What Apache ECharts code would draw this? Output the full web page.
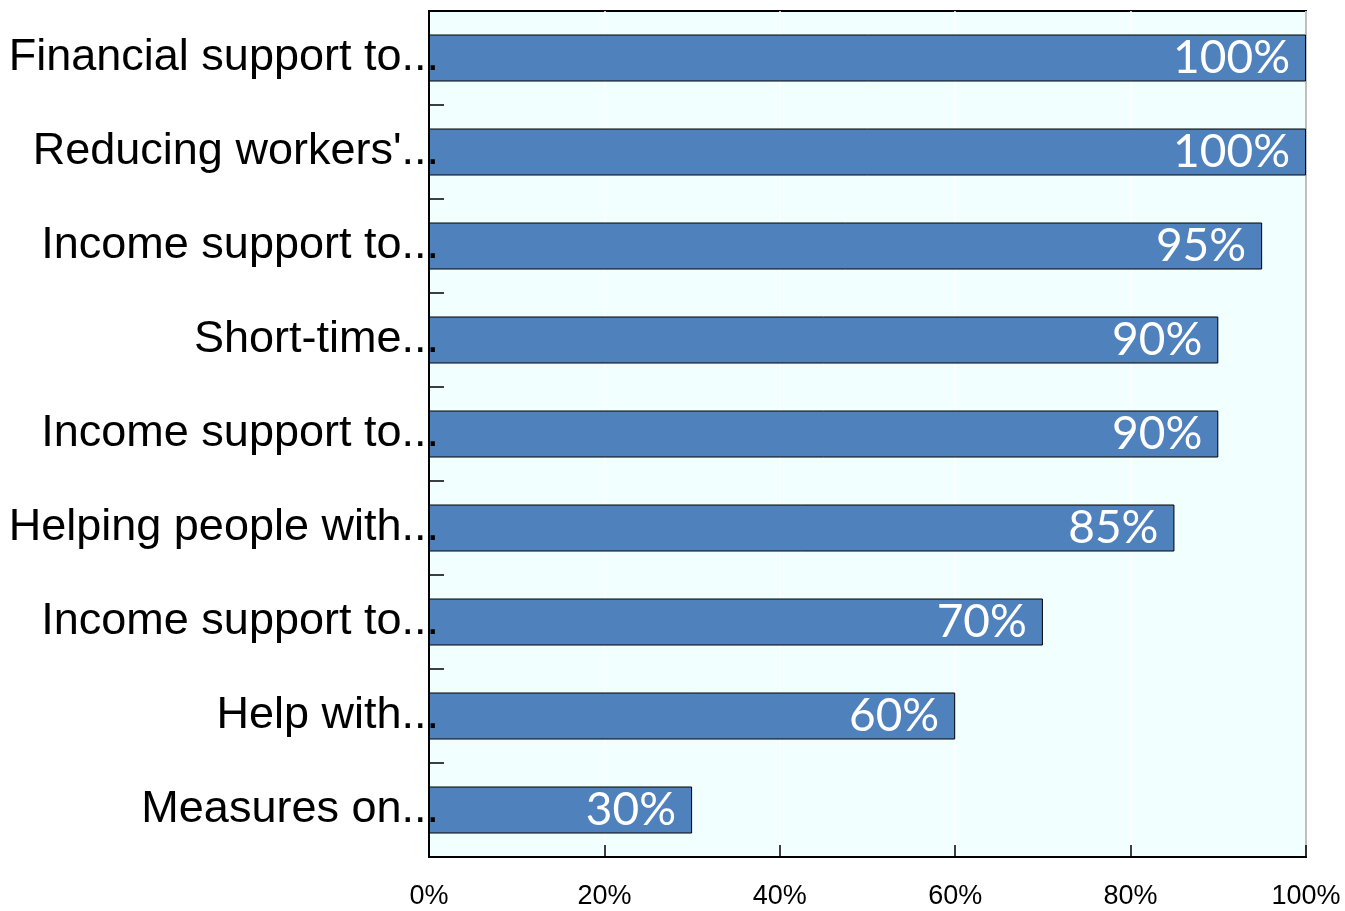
<!DOCTYPE html>
<html><head><meta charset="utf-8">
<script src="https://cdn.jsdelivr.net/npm/echarts@6/dist/echarts.min.js"></script>
<style>html,body{margin:0;padding:0;background:#fff}#c{width:1345px;height:911px}</style>
</head><body><div id="c"></div>
<script>
const categories = ["Financial support to...", "Reducing workers'...", "Income support to...", "Short-time...", "Income support to...", "Helping people with...", "Income support to...", "Help with...", "Measures on..."];
const values = [100, 100, 95, 90, 90, 85, 70, 60, 30];
const xTicks = [0, 20, 40, 60, 80, 100];

const chart = echarts.init(document.getElementById('c'));
chart.setOption({
  animation: false,
  grid: {left: 429, right: 39, top: 11, bottom: 54, show: true, backgroundColor: '#F2FFFF', borderColor: '#000', borderWidth: 2, outerBoundsMode: 'none', containLabel: false},
  xAxis: {
    type: 'value', min: xTicks[0], max: xTicks[xTicks.length-1], interval: 20,
    axisLine: {show: true, lineStyle: {color: '#000', width: 2}},
    axisTick: {show: true, inside: true, length: 12, lineStyle: {color: '#000', width: 1.5}},
    splitLine: {show: true, lineStyle: {color: '#ffffff', width: 1.5}},
    axisLabel: {formatter: v => v + '%', color: '#000', fontSize: 27, fontFamily: 'Liberation Sans Narrow, Arial Narrow, Liberation Sans, sans-serif', margin: 26}
  },
  yAxis: {
    type: 'category', data: categories, inverse: true, z: 5,
    axisLine: {show: true, lineStyle: {color: '#000', width: 2}},
    axisTick: {show: true, inside: true, length: 15, lineStyle: {color: '#000', width: 1.5}},
    axisLabel: {color: '#000', fontSize: 45, fontFamily: 'Liberation Sans Narrow, Arial Narrow, Liberation Sans, sans-serif', margin: -10}
  },
  series: [{
    type: 'bar', data: values, barWidth: '50%',
    itemStyle: {color: '#4F81BD', borderColor: '#000', borderWidth: 1},
    label: {show: true, position: 'insideRight', distance: 16, formatter: p => p.value + '%', color: '#fff', fontSize: 46, fontFamily: 'Lato, Open Sans, sans-serif'}
  }]
});
</script></body></html>
